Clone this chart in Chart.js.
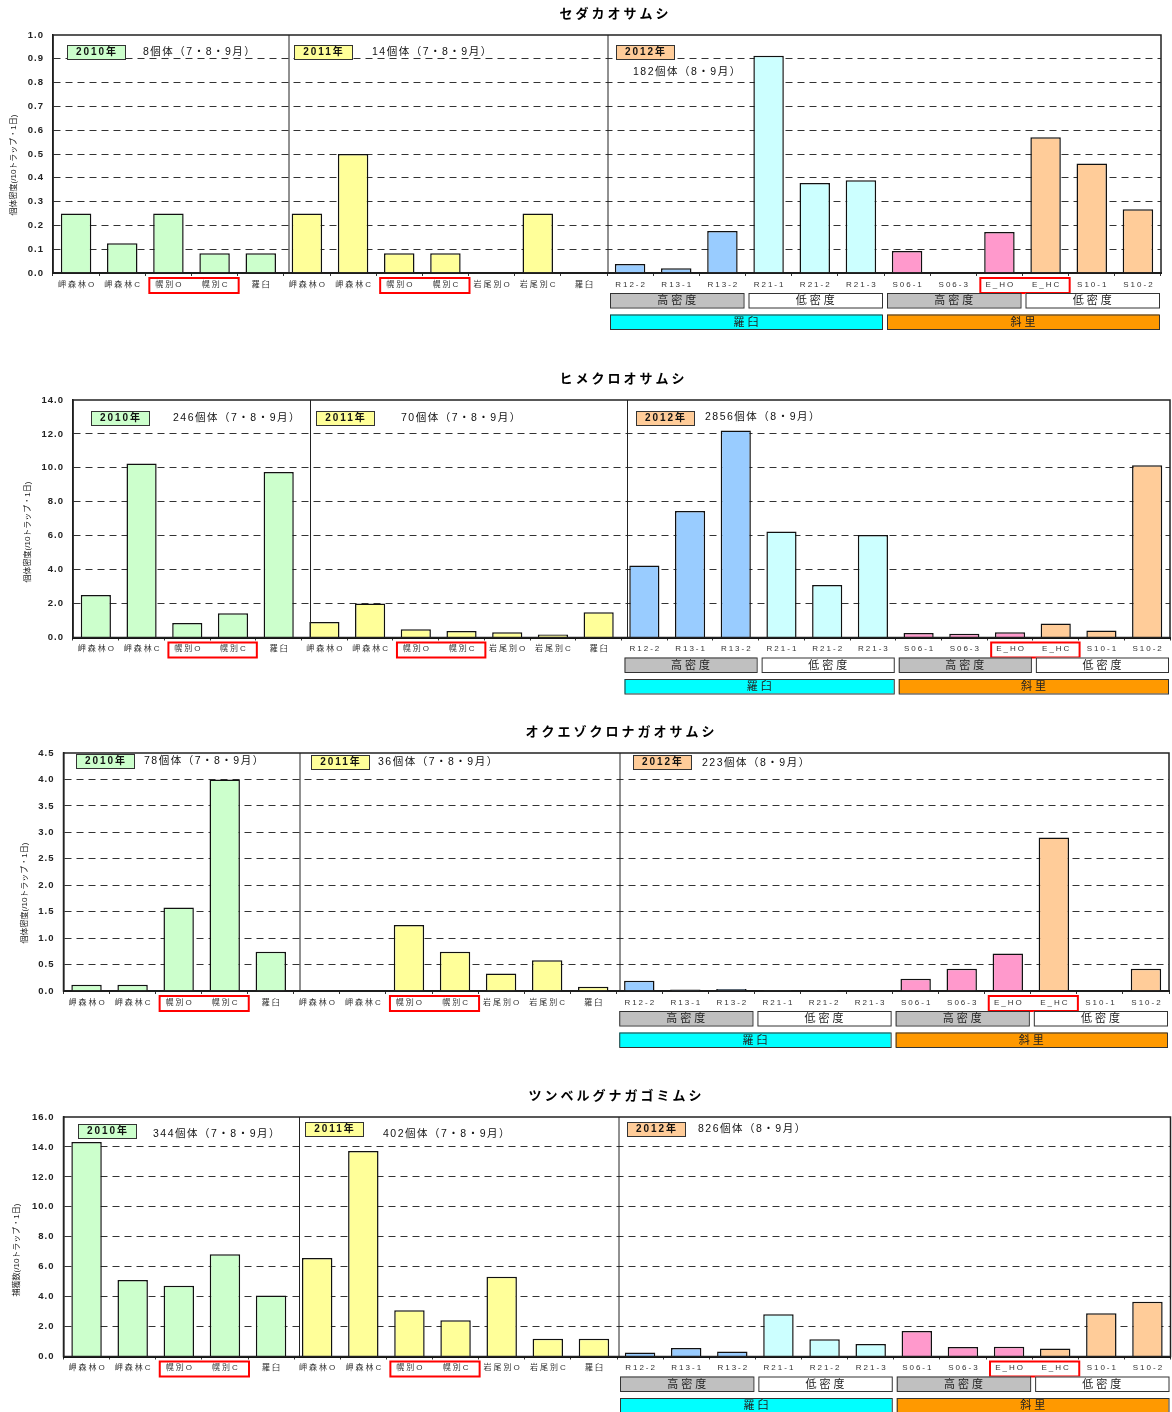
<!DOCTYPE html>
<html>
<head>
<meta charset="utf-8">
<script src="https://cdn.jsdelivr.net/npm/chart.js@4.4.1/dist/chart.umd.min.js"></script>
<style>
html, body { margin: 0; padding: 0; background: #fff; overflow: hidden; }
body { width: 1172px; height: 1412px; position: relative; }
.panel { position: absolute; left: 0; width: 1172px; }
</style>
</head>
<body>
<div class="panel" style="top:0;height:345px"><canvas id="c1"></canvas></div>
<div class="panel" style="top:345px;height:360px"><canvas id="c2"></canvas></div>
<div class="panel" style="top:705px;height:360px"><canvas id="c3"></canvas></div>
<div class="panel" style="top:1065px;height:347px"><canvas id="c4"></canvas></div>
<script>
// Sites: 2010 (5), 2011 (7), 2012 (12)
const siteLabels = [
    '岬森林O', '岬森林C', '幌別O', '幌別C', '羅臼',
    '岬森林O', '岬森林C', '幌別O', '幌別C', '岩尾別O', '岩尾別C', '羅臼',
    'R12-2', 'R13-1', 'R13-2', 'R21-1', 'R21-2', 'R21-3',
    'S06-1', 'S06-3', 'E_HO', 'E_HC', 'S10-1', 'S10-2'
];
const yearNames = ['2010年', '2011年', '2012年'];

// values per species (個体密度 / 捕獲数)
const sedakaValues = [0.25, 0.125, 0.25, 0.083, 0.083,
    0.25, 0.5, 0.083, 0.083, 0, 0.25, 0,
    0.038, 0.02, 0.176, 0.913, 0.378, 0.39, 0.092, 0, 0.172, 0.57, 0.46, 0.268];
const himeValues = [2.5, 10.26, 0.85, 1.43, 9.75,
    0.92, 2.0, 0.49, 0.39, 0.31, 0.18, 1.49,
    4.24, 7.45, 12.2, 6.25, 3.1, 6.04, 0.27, 0.22, 0.31, 0.82, 0.41, 10.16];
const okuezoValues = [0.12, 0.12, 1.58, 4.0, 0.74,
    0, 0, 1.25, 0.74, 0.33, 0.58, 0.08,
    0.195, 0.03, 0.04, 0.02, 0.02, 0, 0.23, 0.42, 0.71, 2.9, 0, 0.42];
const tsunbergValues = [14.33, 5.11, 4.73, 6.83, 4.07,
    6.58, 13.73, 3.09, 2.43, 5.33, 1.18, 1.18,
    0.27, 0.56, 0.33, 2.83, 1.16, 0.83, 1.71, 0.63, 0.65, 0.53, 2.89, 3.65];

// number of individuals per year
const sedakaCounts = ['8個体（7・8・9月）', '14個体（7・8・9月）', '182個体（8・9月）'];
const himeCounts = ['246個体（7・8・9月）', '70個体（7・8・9月）', '2856個体（8・9月）'];
const okuezoCounts = ['78個体（7・8・9月）', '36個体（7・8・9月）', '223個体（8・9月）'];
const tsunbergCounts = ['344個体（7・8・9月）', '402個体（7・8・9月）', '826個体（8・9月）'];

// groups under the 2012 sites: [text, first index, last index]
const densityGroups = [['高密度', 12, 14], ['低密度', 15, 17], ['高密度', 18, 20], ['低密度', 21, 23]];
const areaGroups = [['羅臼', 12, 17], ['斜里', 18, 23]];
const boxedPairs = [[2, 3], [7, 8], [20, 21]];

// colours
const siteColors = [
    '#CCFFCC', '#CCFFCC', '#CCFFCC', '#CCFFCC', '#CCFFCC',
    '#FFFF99', '#FFFF99', '#FFFF99', '#FFFF99', '#FFFF99', '#FFFF99', '#FFFF99',
    '#99CCFF', '#99CCFF', '#99CCFF', '#CCFFFF', '#CCFFFF', '#CCFFFF',
    '#FF99CC', '#FF99CC', '#FF99CC', '#FFCC99', '#FFCC99', '#FFCC99'
];
const yearColors = ['#CCFFCC', '#FFFF99', '#FFCC99'];
const densityColors = { '高密度': '#C0C0C0', '低密度': '#FFFFFF' };
const areaColors = { '羅臼': '#00FFFF', '斜里': '#FF9900' };

const FONT = "'Liberation Sans', 'Noto Sans CJK JP', sans-serif";

// page layout of each panel (page pixels)
const panels = [
    { id: 'c1', title: 'セダカオサムシ', values: sedakaValues, counts: sedakaCounts,
      yMax: 1.0, yStep: 0.1, yTitle: '個体密度(/10トラップ・1日)',
      top: 0, plot: { l: 53, t: 35, r: 1161, b: 273 }, titleX: 614, titleY: 14,
      yTitleX: 14, yTitleY: 165,
      badges: [[67, 45], [294, 45], [616, 45]], countPos: [[143, 52], [372, 52], [633, 72]], seps: [289, 608] },
    { id: 'c2', title: 'ヒメクロオサムシ', values: himeValues, counts: himeCounts,
      yMax: 14, yStep: 2, yTitle: '個体密度(/10トラップ・1日)',
      top: 345, plot: { l: 73, t: 400, r: 1170, b: 637.5 }, titleX: 622, titleY: 379,
      yTitleX: 28, yTitleY: 532,
      badges: [[91, 411], [316, 411], [636, 411]], countPos: [[173, 418], [401, 418], [705, 417]], seps: [310.5, 627.5] },
    { id: 'c3', title: 'オクエゾクロナガオサムシ', values: okuezoValues, counts: okuezoCounts,
      yMax: 4.5, yStep: 0.5, yTitle: '個体密度(/10トラップ・1日)',
      top: 705, plot: { l: 63.5, t: 753, r: 1169, b: 991 }, titleX: 620, titleY: 732,
      yTitleX: 25, yTitleY: 893,
      badges: [[76, 754], [311, 755], [633, 755]], countPos: [[144, 761], [378, 762], [702, 763]], seps: [300, 620] },
    { id: 'c4', title: 'ツンベルグナガゴミムシ', values: tsunbergValues, counts: tsunbergCounts,
      yMax: 16, yStep: 2, yTitle: '捕獲数(/10トラップ・1日)',
      top: 1065, plot: { l: 63.5, t: 1117, r: 1170.5, b: 1356.5 }, titleX: 615, titleY: 1096,
      yTitleX: 17, yTitleY: 1250,
      badges: [[78, 1124], [305, 1122], [627, 1122]], countPos: [[153, 1134], [383, 1134], [698, 1129]], seps: [299.5, 619] }
];

function drawText(ctx, text, x, y, font, align, spacing, color) {
    ctx.font = font;
    ctx.textAlign = align;
    ctx.textBaseline = 'middle';
    ctx.letterSpacing = spacing + 'px';
    ctx.fillStyle = color;
    ctx.fillText(text, x + (align === 'center' ? spacing / 2 : 0), y);
}

function makeDecorations(p) {
    const dy = p.top;
    return {
        id: 'decorations',
        beforeDraw(chart) {
            chart.ctx.letterSpacing = '1px';
        },
        afterDatasetsDraw(chart) {
            chart.ctx.letterSpacing = '0px';
        },
        afterDraw(chart) {
            const ctx = chart.ctx;
            const area = chart.chartArea;
            const xs = chart.scales.x;
            const half = (xs.getPixelForValue(1) - xs.getPixelForValue(0)) / 2;
            ctx.save();

            // plot frame and year separators
            ctx.strokeStyle = '#222';
            ctx.lineWidth = 1.5;
            ctx.strokeRect(area.left, area.top, area.right - area.left, area.bottom - area.top);
            ctx.lineWidth = 1;
            p.seps.forEach(sx => {
                ctx.beginPath();
                ctx.moveTo(sx, area.top);
                ctx.lineTo(sx, area.bottom);
                ctx.stroke();
            });

            // title
            drawText(ctx, p.title, p.titleX, p.titleY - dy, 'bold 13px ' + FONT, 'center', 3, '#000');

            // y axis title
            ctx.save();
            ctx.translate(p.yTitleX, p.yTitleY - dy);
            ctx.rotate(-Math.PI / 2);
            drawText(ctx, p.yTitle, 0, 0, '8px ' + FONT, 'center', 0, '#222');
            ctx.restore();

            // year badges and counts
            yearNames.forEach((name, k) => {
                const [bx, by] = p.badges[k];
                ctx.fillStyle = yearColors[k];
                ctx.fillRect(bx, by - dy, 58, 14);
                ctx.strokeStyle = '#333';
                ctx.lineWidth = 1;
                ctx.strokeRect(bx + 0.5, by - dy + 0.5, 58, 14);
                drawText(ctx, name, bx + 29, by - dy + 7.5, 'bold 10px ' + FONT, 'center', 2, '#111');
                const [cx, cy] = p.countPos[k];
                drawText(ctx, p.counts[k], cx, cy - dy, '10.5px ' + FONT, 'left', 1.5, '#111');
            });

            // site labels
            siteLabels.forEach((lab, i) => {
                drawText(ctx, lab, xs.getPixelForValue(i), area.bottom + 11.5, '8px ' + FONT, 'center', 2, '#333');
            });

            // red boxes around paired sites
            ctx.strokeStyle = '#FF0000';
            ctx.lineWidth = 2;
            boxedPairs.forEach(([a, b]) => {
                const x0 = xs.getPixelForValue(a) - half + 4;
                const x1 = xs.getPixelForValue(b) + half + 1;
                ctx.strokeRect(x0, area.bottom + 5, x1 - x0, 15);
            });

            // density and area group boxes
            const groupRow = (groups, colors, y0, h) => {
                groups.forEach(([text, a, b]) => {
                    const x0 = xs.getPixelForValue(a) - half + 3;
                    const x1 = xs.getPixelForValue(b) + half - 2;
                    ctx.fillStyle = colors[text];
                    ctx.fillRect(x0, y0, x1 - x0, h);
                    ctx.strokeStyle = '#333';
                    ctx.lineWidth = 1;
                    ctx.strokeRect(x0 + 0.5, y0 + 0.5, x1 - x0, h);
                    drawText(ctx, text, (x0 + x1) / 2, y0 + h / 2 + 1, '11px ' + FONT, 'center', 3, '#222');
                });
            };
            groupRow(densityGroups, densityColors, area.bottom + 20, 14.5);
            groupRow(areaGroups, areaColors, area.bottom + 41.5, 14.5);

            ctx.restore();
        }
    };
}

panels.forEach(p => {
    const H = parseFloat(document.getElementById(p.id).parentNode.style.height);
    new Chart(document.getElementById(p.id), {
        type: 'bar',
        data: {
            labels: siteLabels,
            datasets: [{
                data: p.values,
                backgroundColor: siteColors,
                borderColor: '#111',
                borderWidth: 1.5,
                categoryPercentage: 1.0,
                barPercentage: 0.66
            }]
        },
        options: {
            responsive: true,
            maintainAspectRatio: false,
            animation: false,
            layout: {
                padding: { left: 0, right: 1172 - p.plot.r, top: p.plot.t - p.top, bottom: 0 }
            },
            plugins: {
                legend: { display: false },
                tooltip: { enabled: false }
            },
            scales: {
                x: {
                    ticks: { display: false },
                    grid: { drawOnChartArea: false, drawTicks: true, tickLength: 3, color: '#333' },
                    border: { color: '#111', width: 2 },
                    afterFit: s => { s.height = (p.top + H) - p.plot.b; }
                },
                y: {
                    min: 0,
                    max: p.yMax,
                    ticks: {
                        stepSize: p.yStep,
                        padding: 9,
                        color: '#222',
                        font: { size: 9.5, weight: 'bold', family: FONT },
                        callback: v => Number(v).toFixed(1)
                    },
                    grid: {
                        drawTicks: false,
                        lineWidth: 1,
                        color: c => (c.tick && (c.tick.value === 0 || Math.abs(c.tick.value - p.yMax) < 1e-9)) ? 'rgba(0,0,0,0)' : '#333'
                    },
                    border: { color: '#111', width: 1.5, dash: [7, 5] },
                    afterFit: s => { s.width = p.plot.l; }
                }
            }
        },
        plugins: [makeDecorations(p)]
    });
});
</script>
</body>
</html>
